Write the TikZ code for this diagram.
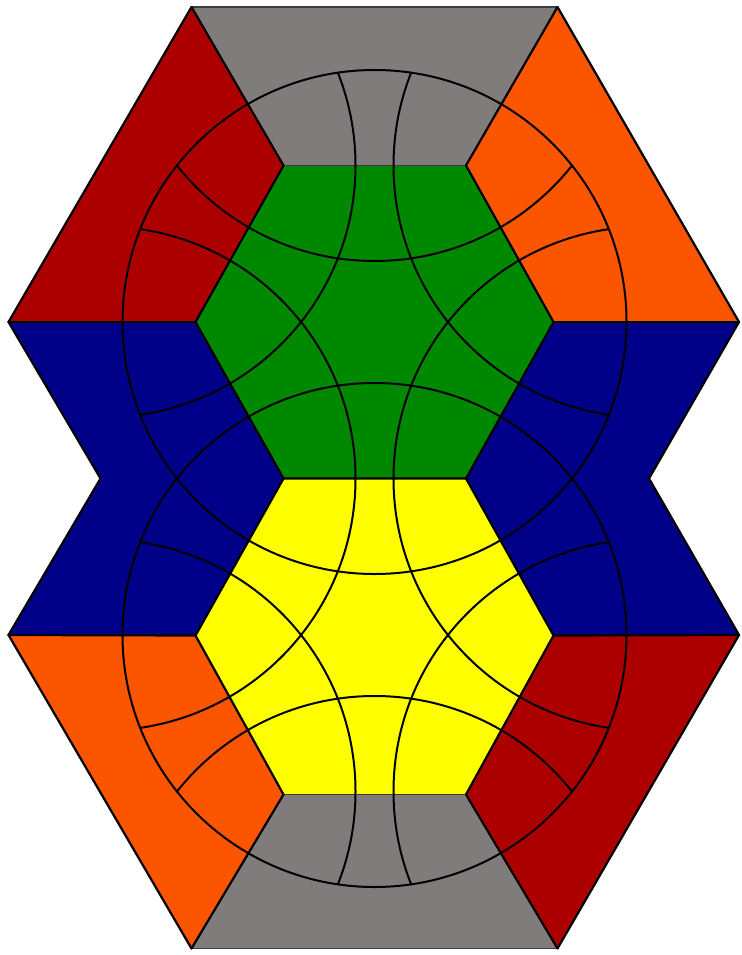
\documentclass[tikz,border=0pt]{standalone}
\definecolor{cred}{RGB}{172,0,0}
\definecolor{corange}{RGB}{252,85,0}
\definecolor{cgray}{RGB}{128,124,124}
\definecolor{cgreen}{RGB}{0,136,0}
\definecolor{cblue}{RGB}{0,0,136}
\definecolor{cyellow}{RGB}{255,255,0}
\definecolor{cedge}{RGB}{60,60,60}
\begin{document}
\begin{tikzpicture}[x=1pt,y=-1pt,
  edge/.style={line width=2.2pt, line join=miter, line cap=round, black},
  softedge/.style={line width=1.8pt, line cap=round, cedge},
  cut/.style={line width=2pt, black}]
\useasboundingbox (0,0) rectangle (741,955);
% centres
\coordinate (C1) at (374.5,322);
\coordinate (C2) at (374.5,635);
% outer points
\coordinate (A0) at (8.5,322);
\coordinate (A1) at (191.5,7);
\coordinate (A2) at (557.5,7);
\coordinate (A3) at (739,322);
\coordinate (L) at (100.5,478.5);
\coordinate (R) at (649,478.5);
\coordinate (B0) at (8.5,635);
\coordinate (B1) at (191.5,948.5);
\coordinate (B2) at (557.5,948.5);
\coordinate (B3) at (739,635);
% green hexagon
\coordinate (G1) at (283.5,165.5);
\coordinate (G2) at (466,165.5);
\coordinate (G3) at (553.5,322);
\coordinate (G4) at (466,478.5);
\coordinate (G5) at (283.5,478.5);
\coordinate (G6) at (195.5,322);
% yellow hexagon
\coordinate (Y3) at (553.5,635.5);
\coordinate (Y4) at (466,794.5);
\coordinate (Y5) at (283.5,794.5);
\coordinate (Y6) at (195.5,635.5);
% fills
\fill[cgray] (A1) -- (A2) -- (G2) -- (G1) -- cycle;
\fill[cred] (A1) -- (G1) -- (G6) -- (A0) -- cycle;
\fill[corange] (A2) -- (A3) -- (G3) -- (G2) -- cycle;
\fill[cgreen] (G1) -- (G2) -- (G3) -- (G4) -- (G5) -- (G6) -- cycle;
\fill[cblue] (A0) -- (G6) -- (G5) -- (Y6) -- (B0) -- (L) -- cycle;
\fill[cblue] (A3) -- (R) -- (B3) -- (Y3) -- (G4) -- (G3) -- cycle;
\fill[cyellow] (G5) -- (G4) -- (Y3) -- (Y4) -- (Y5) -- (Y6) -- cycle;
\fill[corange] (B0) -- (Y6) -- (Y5) -- (B1) -- cycle;
\fill[cgray] (Y5) -- (Y4) -- (B2) -- (B1) -- cycle;
\fill[cred] (B3) -- (B2) -- (Y4) -- (Y3) -- cycle;
% edges
\draw[softedge] (A1) -- (A2);
\draw[softedge] (B1) -- (B2);
\draw[softedge] (G1) -- (G2);
\draw[softedge] (Y5) -- (Y4);
\draw[edge] (A2) -- (A3) -- (R) -- (B3) -- (B2);
\draw[edge] (B1) -- (B0) -- (L) -- (A0) -- (A1);
\draw[edge] (G2) -- (G3) -- (G4) -- (G5) -- (G6) -- (G1);
\draw[edge] (G4) -- (Y3) -- (Y4);
\draw[edge] (Y5) -- (Y6) -- (G5);
\draw[edge] (A1) -- (G1);
\draw[edge] (A2) -- (G2);
\draw[edge] (A0) -- (G6);
\draw[edge] (A3) -- (G3);
\draw[edge] (B0) -- (Y6);
\draw[edge] (B3) -- (Y3);
\draw[edge] (B1) -- (Y5);
\draw[edge] (B2) -- (Y4);
% neighbouring centres
\coordinate (N1) at (374.5,9);
\coordinate (N2) at (645.5,165.5);
\coordinate (N3) at (645.5,478.5);
\coordinate (N4) at (645.5,791.5);
\coordinate (N5) at (374.5,948);
\coordinate (N6) at (103.5,791.5);
\coordinate (N7) at (103.5,478.5);
\coordinate (N8) at (103.5,165.5);
% cuts inside the two discs
\begin{scope}
  \clip (C1) circle[radius=252pt] (C2) circle[radius=252pt];
  \foreach \n in {N1,N2,N3,N4,N5,N6,N7,N8}
    \draw[cut] (\n) circle[radius=252pt];
\end{scope}
\draw[cut] (C1) circle[radius=252pt];
\draw[cut] (C2) circle[radius=252pt];
\end{tikzpicture}
\end{document}
